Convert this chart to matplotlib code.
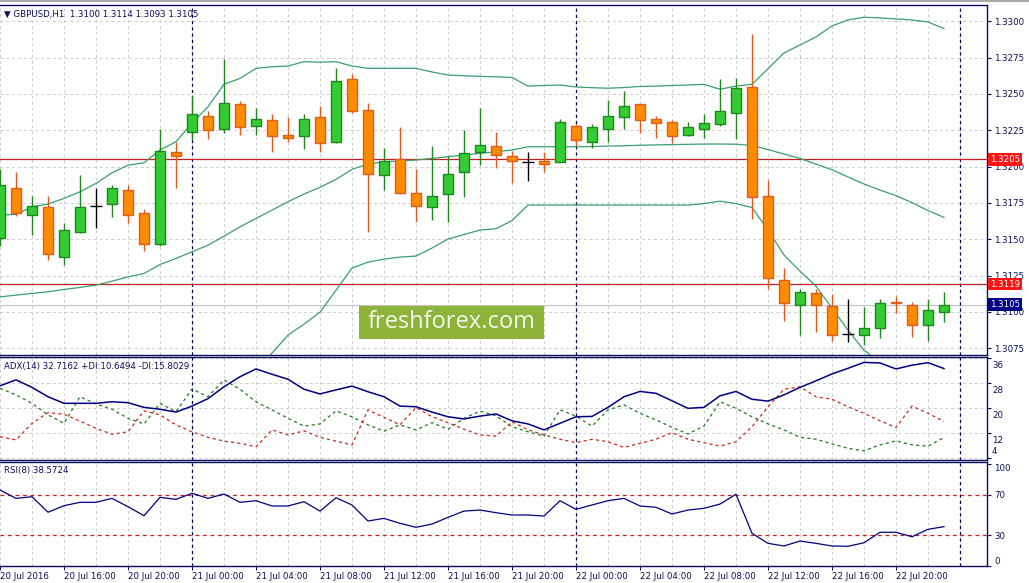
import numpy as np
import matplotlib.pyplot as plt
import matplotlib.transforms as mtransforms
from matplotlib.patches import Rectangle
from matplotlib.lines import Line2D

plt.rcParams['font.family'] = ['DejaVu Sans']

# ============================================================
# DATA  (GBPUSD H1, 20 Jul 12:00 .. 22 Jul 23:00)
# ============================================================

opens = [1.3151, 1.3185, 1.3167, 1.3172, 1.3138, 1.3155, 1.3173, 1.3174, 1.3184, 1.3168,
         1.3147, 1.3210, 1.3224, 1.3235, 1.3226, 1.3243, 1.3228, 1.3232, 1.3222, 1.3221,
         1.3234, 1.3217, 1.3260, 1.3239, 1.3194, 1.3205, 1.3182, 1.3172, 1.3181, 1.3196,
         1.3210, 1.3214, 1.3207, 1.3203, 1.3204, 1.3203, 1.3228, 1.3217, 1.3226, 1.3234,
         1.3243, 1.3233, 1.3231, 1.3222, 1.3226, 1.3229, 1.3237, 1.3255, 1.3180, 1.3122,
         1.3105, 1.3113, 1.3104, 1.3085, 1.3084, 1.3089, 1.3107, 1.3105, 1.3091, 1.3100]
highs = [1.3198, 1.3196, 1.3180, 1.3180, 1.3161, 1.3194, 1.3185, 1.3187, 1.3187, 1.3171,
         1.3226, 1.3217, 1.3249, 1.3238, 1.3274, 1.3245, 1.3240, 1.3236, 1.3234, 1.3236,
         1.3242, 1.3268, 1.3264, 1.3244, 1.3213, 1.3227, 1.3198, 1.3214, 1.3207, 1.3225,
         1.3240, 1.3224, 1.3211, 1.3210, 1.3210, 1.3233, 1.3229, 1.3229, 1.3246, 1.3252,
         1.3243, 1.3235, 1.3232, 1.3231, 1.3236, 1.3260, 1.3261, 1.3291, 1.3191, 1.3130,
         1.3116, 1.3116, 1.3112, 1.3109, 1.3103, 1.3109, 1.3111, 1.3107, 1.3109, 1.3114]
lows = [1.3145, 1.3166, 1.3153, 1.3136, 1.3132, 1.3154, 1.3158, 1.3165, 1.3161, 1.3142,
        1.3145, 1.3185, 1.3218, 1.3219, 1.3223, 1.3222, 1.3222, 1.3210, 1.3217, 1.3212,
        1.3210, 1.3216, 1.3237, 1.3155, 1.3184, 1.3181, 1.3162, 1.3163, 1.3162, 1.3179,
        1.3201, 1.3199, 1.3189, 1.3190, 1.3196, 1.3203, 1.3214, 1.3213, 1.3217, 1.3226,
        1.3223, 1.3220, 1.3216, 1.3221, 1.3220, 1.3228, 1.3219, 1.3164, 1.3116, 1.3094,
        1.3084, 1.3086, 1.3080, 1.3079, 1.3077, 1.3082, 1.3099, 1.3083, 1.3080, 1.3093]
closes = [1.3187, 1.3168, 1.3173, 1.3140, 1.3156, 1.3172, 1.3173, 1.3185, 1.3167, 1.3147,
          1.3211, 1.3207, 1.3236, 1.3225, 1.3244, 1.3227, 1.3233, 1.3221, 1.3220, 1.3233,
          1.3216, 1.3259, 1.3238, 1.3195, 1.3204, 1.3182, 1.3173, 1.3180, 1.3195, 1.3209,
          1.3215, 1.3208, 1.3204, 1.3203, 1.3202, 1.3231, 1.3218, 1.3227, 1.3235, 1.3242,
          1.3232, 1.3230, 1.3221, 1.3227, 1.3230, 1.3238, 1.3254, 1.3179, 1.3123, 1.3106,
          1.3114, 1.3105, 1.3084, 1.3085, 1.3089, 1.3106, 1.3106, 1.3091, 1.3101, 1.3105]

bb_upper = [1.31666, 1.31671, 1.31723, 1.31742, 1.31781, 1.31826, 1.31884, 1.31957, 1.32010, 1.32026,
            1.32114, 1.32171, 1.32298, 1.32412, 1.32566, 1.32607, 1.32676, 1.32687, 1.32692, 1.32722,
            1.32718, 1.32722, 1.32692, 1.32676, 1.32676, 1.32676, 1.32676, 1.32651, 1.32630, 1.32625,
            1.32621, 1.32618, 1.32613, 1.32554, 1.32558, 1.32561, 1.32548, 1.32543, 1.32539, 1.32544,
            1.32551, 1.32554, 1.32558, 1.32561, 1.32566, 1.32532, 1.32554, 1.32566, 1.32674, 1.32782,
            1.32837, 1.32892, 1.32968, 1.33009, 1.33028, 1.33023, 1.33016, 1.33009, 1.32995, 1.32950]
bb_middle = [1.31103, 1.31115, 1.31127, 1.31138, 1.31154, 1.31168, 1.31184, 1.31211, 1.31241, 1.31264,
             1.31326, 1.31368, 1.31413, 1.31459, 1.31521, 1.31585, 1.31643, 1.31700, 1.31758, 1.31811,
             1.31857, 1.31912, 1.31981, 1.32017, 1.32033, 1.32038, 1.32045, 1.32056, 1.32068, 1.32079,
             1.32091, 1.32102, 1.32114, 1.32136, 1.32136, 1.32136, 1.32136, 1.32138, 1.32141, 1.32143,
             1.32147, 1.32149, 1.32151, 1.32153, 1.32155, 1.32155, 1.32154, 1.32145, 1.32117, 1.32086,
             1.32056, 1.32017, 1.31978, 1.31928, 1.31880, 1.31838, 1.31800, 1.31752, 1.31697, 1.31650]
bb_lower = [1.30541, 1.30559, 1.30530, 1.30534, 1.30528, 1.30510, 1.30483, 1.30466, 1.30472, 1.30503,
            1.30539, 1.30565, 1.30529, 1.30507, 1.30477, 1.30563, 1.30610, 1.30716, 1.30840, 1.30915,
            1.30998, 1.31149, 1.31301, 1.31342, 1.31363, 1.31377, 1.31384, 1.31439, 1.31501, 1.31532,
            1.31563, 1.31572, 1.31628, 1.31735, 1.31735, 1.31735, 1.31735, 1.31735, 1.31735, 1.31735,
            1.31735, 1.31735, 1.31735, 1.31735, 1.31745, 1.31762, 1.31745, 1.31718, 1.31563, 1.31391,
            1.31280, 1.31177, 1.31026, 1.30874, 1.30736, 1.30654, 1.30585, 1.30495, 1.30399, 1.30351]

adx_main = [27.2, 29.1, 26.7, 23.7, 21.6, 21.6, 21.6, 22.1, 21.8, 20.3,
            19.7, 18.8, 20.7, 23.1, 26.9, 30.1, 32.6, 30.9, 29.3, 26.1,
            24.6, 25.9, 27.1, 25.3, 23.7, 20.7, 20.5, 18.8, 17.3, 16.6,
            17.5, 18.2, 16.0, 15.0, 13.1, 15.2, 17.3, 17.4, 20.3, 23.7,
            25.4, 24.8, 22.4, 20.0, 20.3, 24.0, 25.4, 22.9, 22.3, 24.3,
            26.7, 28.8, 31.0, 32.8, 34.7, 34.5, 32.6, 33.8, 34.6, 32.72]
plus_di = [26.4, 24.3, 21.6, 17.9, 15.2, 23.7, 21.4, 19.7, 16.8, 15.0,
           21.6, 18.9, 26.2, 23.7, 29.1, 26.1, 22.1, 19.5, 16.8, 14.3,
           15.0, 19.2, 17.3, 14.7, 12.7, 14.7, 13.1, 15.4, 13.3, 16.8,
           19.1, 17.6, 14.1, 12.5, 11.1, 19.5, 17.5, 14.3, 19.5, 21.1,
           18.4, 16.3, 13.9, 11.8, 14.3, 22.1, 20.0, 17.3, 15.0, 13.1,
           10.7, 10.1, 8.6, 7.2, 6.4, 8.3, 9.6, 8.3, 7.9, 10.65]
minus_di = [10.9, 9.9, 15.2, 18.6, 18.1, 15.9, 13.6, 11.7, 12.5, 19.2,
            17.9, 14.7, 12.5, 10.7, 9.5, 8.8, 7.7, 13.1, 11.5, 12.8,
            10.7, 9.5, 8.3, 19.5, 17.1, 14.7, 20.3, 17.3, 15.4, 13.3,
            11.5, 11.1, 15.7, 13.1, 11.5, 10.1, 9.0, 10.1, 9.3, 7.5,
            8.8, 10.1, 12.2, 10.1, 9.0, 7.9, 9.3, 14.1, 20.5, 26.1,
            26.9, 23.7, 22.9, 20.5, 18.4, 16.0, 13.9, 20.7, 18.4, 15.8]

rsi = [74.6, 66.4, 68.0, 52.7, 59.2, 62.5, 62.5, 66.4, 58.2, 49.3,
       67.4, 65.4, 71.4, 66.4, 70.7, 62.5, 64.1, 58.9, 58.9, 63.1,
       53.9, 67.0, 59.9, 44.1, 46.7, 41.8, 37.9, 41.1, 47.7, 53.9,
       54.9, 52.3, 50.0, 50.0, 49.0, 64.1, 55.6, 59.9, 64.1, 66.4,
       58.9, 57.6, 51.0, 54.9, 56.6, 60.8, 70.4, 32.0, 22.1, 19.5,
       24.4, 22.1, 19.5, 19.2, 22.7, 33.0, 33.0, 28.6, 35.9, 38.57]

level_lines = [1.3205, 1.3119]
last_price = 1.3105
rsi_levels = [70, 30]
day_starts = [12, 36, 60]

price_ticks = [1.3075, 1.3100, 1.3125, 1.3150, 1.3175, 1.3200, 1.3225, 1.3250, 1.3275, 1.3300]
adx_ticks = [36, 28, 20, 12, 4]
rsi_ticks = [100, 70, 30, 0]

time_label_idx = list(range(0, 60, 4))
time_labels = ["20 Jul 2016", "20 Jul 16:00", "20 Jul 20:00", "21 Jul 00:00",
               "21 Jul 04:00", "21 Jul 08:00", "21 Jul 12:00", "21 Jul 16:00",
               "21 Jul 20:00", "22 Jul 00:00", "22 Jul 04:00", "22 Jul 08:00",
               "22 Jul 12:00", "22 Jul 16:00", "22 Jul 20:00"]

# ============================================================
# STYLE
# ============================================================

NAVY = '#0c0c5c'
GRID = '#cdcdcd'
FS = 6.2
W, H = 1029, 583
RIGHT = 987

fig = plt.figure(figsize=(W / 100, H / 100), dpi=100)
fig.patch.set_facecolor('white')


def panel(top, bottom):
    return fig.add_axes([0, 1 - bottom / H, RIGHT / W, (bottom - top) / H])


ax = panel(5, 355)
ax_adx = panel(357, 460)
ax_rsi = panel(462, 566)

x = np.arange(len(opens))
o, h, l, c = map(np.array, (opens, highs, lows, closes))

for a in (ax, ax_adx, ax_rsi):
    a.set_xlim(0, RIGHT / 16)
    a.set_xticks(time_label_idx)
    a.set_xticks(np.arange(0, 62, 2), minor=True)
    a.grid(True, which='both', axis='x', color=GRID, ls=(0, (3, 3)), lw=0.7)
    a.set_axisbelow(True)
    a.spines['left'].set_visible(False)
    for s in ('top', 'right', 'bottom'):
        a.spines[s].set_color(NAVY)
        a.spines[s].set_linewidth(1.0)
    a.yaxis.tick_right()
    a.tick_params(axis='y', direction='out', length=3, color=NAVY,
                  labelcolor=NAVY, labelsize=FS, pad=2)
    a.tick_params(axis='x', which='both', length=0, labelbottom=False)
    for d in day_starts:
        a.axvline(d, color='#000050', ls=(0, (2.5, 2.5)), lw=0.9, zorder=2)

# ============================================================
# MAIN PANEL
# ============================================================

ax.set_ylim(1.30703, 1.33112)
ax.set_yticks(price_ticks)
ax.set_yticklabels([f"{p:.4f}" for p in price_ticks])
ax.grid(True, axis='y', color=GRID, ls=(0, (3, 3)), lw=0.7)

ax.axhline(last_price, color='#c4c4c4', lw=0.8, zorder=1)
for lvl in level_lines:
    ax.axhline(lvl, color='#c42020', lw=0.9, zorder=2)

ax.plot(x, bb_upper, color='#3a9e6e', lw=0.9, zorder=3)
ax.plot(x, bb_middle, color='#3a9e6e', lw=0.9, zorder=3)
ax.plot(x, bb_lower, color='#3a9e6e', lw=0.9, zorder=3)

bull = c > o
bear = c < o
doji = c == o
for mask, face, edge in [(bull, '#33cc33', '#1d861d'), (bear, '#ff8c00', '#e25a1c')]:
    ax.vlines(x[mask], l[mask], h[mask], color=edge, lw=1, zorder=4)
    ax.bar(x[mask], np.maximum(np.abs(c - o)[mask], 0.00007),
           bottom=np.minimum(o, c)[mask], width=0.62,
           color=face, edgecolor=edge, lw=1, zorder=5)
ax.vlines(x[doji], l[doji], h[doji], color='black', lw=1, zorder=4)
ax.hlines(c[doji], x[doji] - 0.35, x[doji] + 0.35, color='black', lw=1, zorder=5)

trans = mtransforms.blended_transform_factory(ax.transAxes, ax.transData)
for lvl, bg in [(level_lines[0], '#ff1414'), (level_lines[1], '#ff1414'), (last_price, '#000080')]:
    ax.text(1.003, lvl, f"{lvl:.4f}", transform=trans, ha='left', va='center',
            color='white', fontsize=FS, clip_on=False, zorder=10,
            bbox=dict(boxstyle='square,pad=0.2', fc=bg, ec='none'))

# watermark
ax.add_patch(Rectangle((359 / RIGHT, 16 / 350), 185 / RIGHT, 33 / 350,
                       transform=ax.transAxes, fc='#8db33a', ec='none', zorder=8))
ax.text(451.5 / RIGHT, 32.5 / 350, 'freshforex.com', transform=ax.transAxes,
        ha='center', va='center', color='#f5f7ec', fontsize=17,
        family='Open Sans', zorder=9)

ax.text(0.004, 1 - 9 / 350, "\u25bc GBPUSD,H1  1.3100 1.3114 1.3093 1.3105",
        transform=ax.transAxes, ha='left', va='center', color=NAVY, fontsize=FS)

# ============================================================
# ADX PANEL
# ============================================================

ax_adx.set_ylim(3.46, 36.42)
ax_adx.set_yticks(adx_ticks)
ax_adx.set_yticklabels([])
ax_adx.grid(True, axis='y', color=GRID, ls=(0, (3, 3)), lw=0.7)

adx_trans = mtransforms.blended_transform_factory(ax_adx.transAxes, ax_adx.transData)
for t in adx_ticks:
    if t == 4:
        tr = mtransforms.offset_copy(adx_trans, fig=fig, x=5, y=2, units='dots')
        va = 'bottom'
    else:
        tr = mtransforms.offset_copy(adx_trans, fig=fig, x=5, y=-3, units='dots')
        va = 'top'
    ax_adx.text(1.0, t, str(t), transform=tr, ha='left', va=va,
                color=NAVY, fontsize=FS, clip_on=False)

ax_adx.plot(x, adx_main, color='#000080', lw=1.1, zorder=4)
ax_adx.plot(x, plus_di, color='#1f7a1f', lw=0.9, ls=(0, (2.5, 2.5)), zorder=3)
ax_adx.plot(x, minus_di, color='#cc2a1a', lw=0.9, ls=(0, (2.5, 2.5)), zorder=3)

ax_adx.text(0.004, 1 - 10 / 103, "ADX(14) 32.7162 +DI:10.6494 -DI:15.8029",
            transform=ax_adx.transAxes, ha='left', va='center', color=NAVY, fontsize=FS)

# ============================================================
# RSI PANEL
# ============================================================

ax_rsi.set_ylim(-0.2, 102.2)
ax_rsi.set_yticks(rsi_ticks)
ax_rsi.set_yticklabels([str(t) for t in rsi_ticks])
for lab, t in zip(ax_rsi.get_yticklabels(), rsi_ticks):
    if t == 100:
        lab.set_verticalalignment('top')
    elif t == 0:
        lab.set_verticalalignment('bottom')

for lvl in rsi_levels:
    ax_rsi.axhline(lvl, color='#c42020', lw=0.9, ls=(0, (3, 3)), zorder=2)
ax_rsi.plot(x, rsi, color='#000080', lw=0.9, zorder=4)

ax_rsi.text(0.004, 1 - 8 / 104, "RSI(8) 38.5724",
            transform=ax_rsi.transAxes, ha='left', va='center', color=NAVY, fontsize=FS)

ax_rsi.set_xticks(time_label_idx)
ax_rsi.set_xticklabels(time_labels)
ax_rsi.tick_params(axis='x', which='major', length=3, color=NAVY, labelbottom=True,
                   labelsize=FS, labelcolor=NAVY, pad=1)
for lab in ax_rsi.get_xticklabels():
    lab.set_horizontalalignment('left')

fig.add_artist(Line2D([0, 1], [1 - 1 / H, 1 - 1 / H], color='#a8a8a8', lw=1.5))

fig.savefig("out.png", dpi=100)
plt.close(fig)
